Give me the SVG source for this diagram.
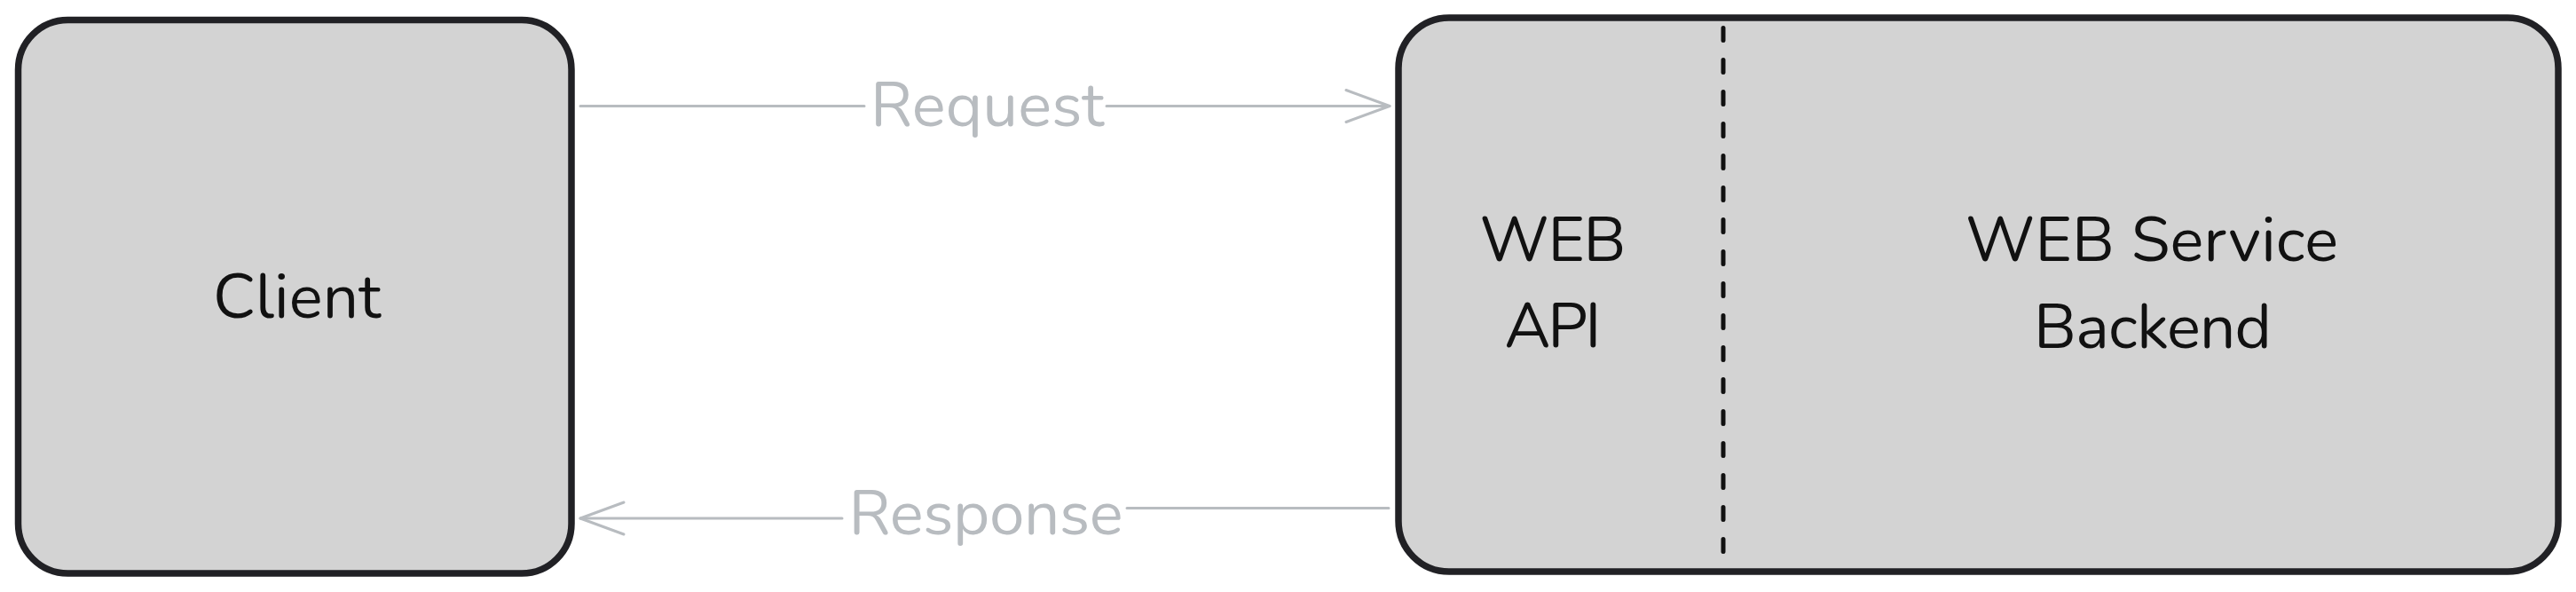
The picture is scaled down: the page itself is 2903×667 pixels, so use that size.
<svg xmlns="http://www.w3.org/2000/svg" width="2903" height="667" viewBox="0 0 2903 667">
<style>
.box{fill:#d3d3d3;stroke:#212125;stroke-width:7.5}
.lbl{font-family:"Nunito",Lato,"Noto Sans",sans-serif;font-size:71px;fill:#111111;text-anchor:middle}
.clbl{font-family:"Nunito",Lato,"Noto Sans",sans-serif;font-size:71px;fill:#b8bcc0;text-anchor:middle}
.conn{fill:none;stroke:#b8bcc0;stroke-width:3;stroke-linecap:round}
</style>
<defs>
<marker id="arr" markerUnits="userSpaceOnUse" viewBox="-52 -21 56 42" refX="0" refY="0" markerWidth="56" markerHeight="42" orient="auto" overflow="visible">
<path d="M-49,-18 L0,0 L-49,18" fill="none" stroke="#b8bcc0" stroke-width="3" stroke-linecap="round" stroke-linejoin="round"/>
</marker>
</defs>
<rect width="2903" height="667" fill="#ffffff"/>
<g id="client">
<rect class="box" x="20.5" y="22.5" width="623.5" height="623.5" rx="56" ry="56"/>
<text class="lbl" x="334.5" y="358" textLength="189">Client</text>
</g>
<g id="server">
<rect class="box" x="1576" y="20" width="1307" height="624" rx="57" ry="57"/>
<line x1="1942" y1="31.5" x2="1942" y2="625" stroke="#111111" stroke-width="5" stroke-linecap="round" stroke-dasharray="14 22"/>
<text class="lbl" x="1750" y="294" textLength="165">WEB</text>
<text class="lbl" x="1750" y="391" textLength="109">API</text>
<text class="lbl" x="2425" y="294" textLength="420">WEB Service</text>
<text class="lbl" x="2426" y="391.5" textLength="268">Backend</text>
</g>
<g id="connectors">
<path class="conn" d="M654,119.5 H974 M1247,119.5 H1566" marker-end="url(#arr)"/>
<text class="clbl" x="1112.5" y="142" textLength="263">Request</text>
<path class="conn" d="M1565,572.5 H1270 M949,584 H654" marker-end="url(#arr)"/>
<text class="clbl" x="1111" y="602" textLength="309">Response</text>
</g>
</svg>
